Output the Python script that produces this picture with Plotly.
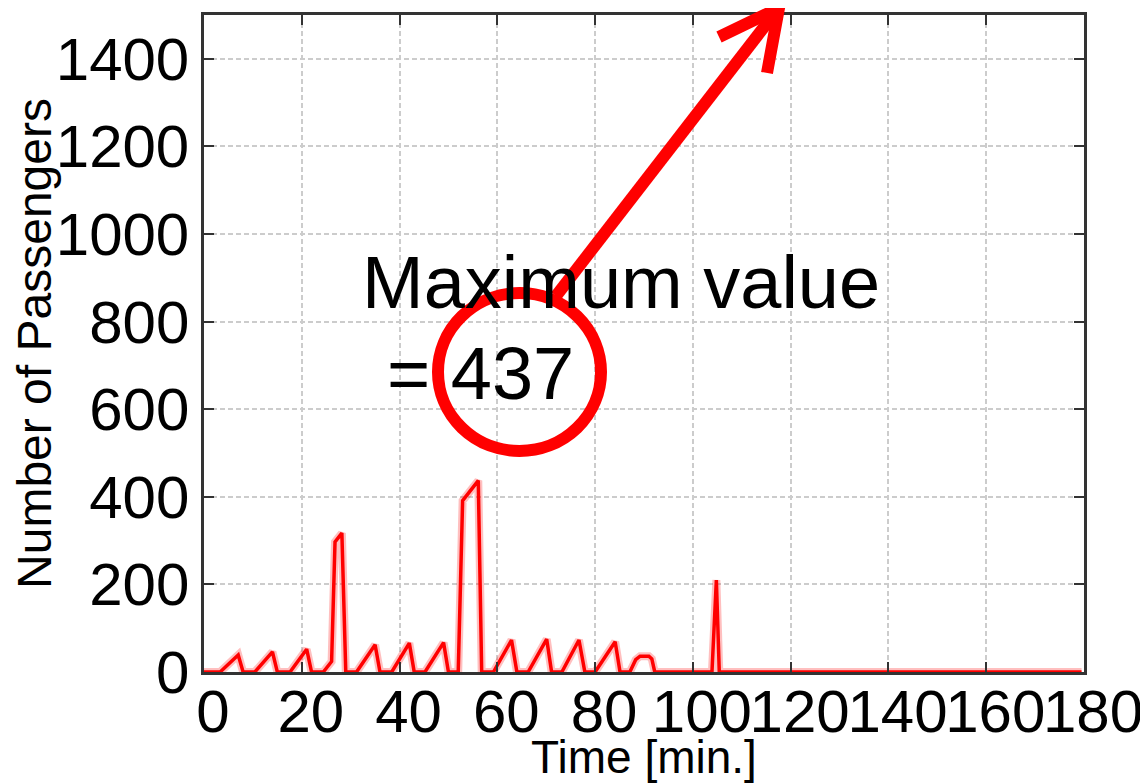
import plotly.graph_objects as go

# ---- data ----
time_min = [0, 3.3, 7.0, 8.0, 10.4, 14.0, 15.0, 17.6, 21.0, 22.0,
             24.4, 26.1, 26.8, 28.2, 29.0, 31.2, 35.0, 36.0, 38.4, 42.0,
             43.0, 45.2, 49.0, 50.0, 52.0, 52.9, 56.1, 56.8, 59.2, 62.9,
             64.0, 66.3, 70.1, 71.1, 73.2, 76.7, 77.9, 80.0, 84.1, 85.1,
             87.1, 88.3, 89.2, 91.0, 91.6, 92.2, 103.9, 104.8, 105.4, 179.5]
passengers = [0, 0, 39, 0, 0, 46, 0, 0, 52, 0,
              0, 24, 297, 317, 0, 0, 62, 0, 0, 66,
              0, 0, 67, 0, 0, 391, 437, 0, 0, 73,
              0, 0, 75, 0, 0, 73, 0, 0, 69, 0,
              0, 28, 36, 36, 30, 0, 0, 210, 0, 0]

x_ticks = [0, 20, 40, 60, 80, 100, 120, 140, 160, 180]
y_ticks = [0, 200, 400, 600, 800, 1000, 1200, 1400]

annot_line1 = "Maximum value"
annot_line2 = "= 437"
x_title = "Time [min.]"
y_title = "Number of Passengers"

FONT = "Liberation Sans, Arial, Helvetica, sans-serif"
OFF = 8  # page body margin of the browser
W, H = 1148 - OFF, 783 - OFF
L, R, T, B = 204 - OFF, 64, 15 - OFF, 111
PW, PH = W - L - R, H - T - B


def px(x):
    """screen pixel x -> paper"""
    return (x - OFF - L) / PW


def py(y):
    """screen pixel y -> paper"""
    return (H - B - (y - OFF)) / PH


fig = go.Figure()
fig.add_trace(go.Scatter(x=time_min, y=passengers, mode="lines",
                         line=dict(color="rgba(255,0,0,0.25)", width=8),
                         hoverinfo="skip", showlegend=False, cliponaxis=False))
fig.add_trace(go.Scatter(x=time_min, y=passengers, mode="lines",
                         line=dict(color="#ff0000", width=3.5),
                         showlegend=False, cliponaxis=False))

axis_common = dict(
    showline=True, linecolor="#333333", linewidth=2.5, mirror="ticks",
    ticks="inside", ticklen=10, tickwidth=2, tickcolor="#333333",
    showgrid=True, gridcolor="#cccccc", gridwidth=1.5, griddash="5px,3px",
    zeroline=False, tickfont=dict(family=FONT, size=60, color="black"),
)

fig.update_xaxes(range=[0, 180], tickvals=x_ticks, ticktext=[str(v) for v in x_ticks],
                 tickangle=0, ticklabelstandoff=-15, ticklabelshift=9,
                 title=dict(text=x_title, font=dict(family=FONT, size=46, color="black"),
                            standoff=20),
                 **axis_common)
fig.update_yaxes(range=[0, 1500], tickvals=y_ticks, ticktext=[str(v) for v in y_ticks],
                 ticklabelstandoff=0,
                 title=dict(text=y_title, font=dict(family=FONT, size=48, color="black"),
                            standoff=0),
                 **axis_common)

# circle around the value
fig.add_shape(type="circle", xref="paper", yref="paper",
              x0=px(438), x1=px(601), y0=py(451), y1=py(293),
              line=dict(color="#ff0000", width=12), layer="above")
# arrow shaft
fig.add_shape(type="line", xref="paper", yref="paper",
              x0=px(556), y0=py(296), x1=px(778), y1=py(9),
              line=dict(color="#ff0000", width=12), layer="above")
# arrow head
fig.add_shape(type="path", xref="paper", yref="paper",
              path=f"M {px(719)},{py(37)} L {px(779)},{py(8)} L {px(767)},{py(73)}",
              line=dict(color="#ff0000", width=12), layer="above")

fig.add_annotation(xref="paper", yref="paper", x=px(360), y=py(282),
                   xanchor="left", yanchor="middle", showarrow=False,
                   text=annot_line1, font=dict(family=FONT, size=74, color="black"))
fig.add_annotation(xref="paper", yref="paper", x=px(385), y=py(373),
                   xanchor="left", yanchor="middle", showarrow=False,
                   text=annot_line2, font=dict(family=FONT, size=74, color="black"))

fig.update_layout(
    width=W, height=H,
    margin=dict(l=L, r=R, t=T, b=B, autoexpand=False),
    plot_bgcolor="white", paper_bgcolor="white",
    font=dict(family=FONT, color="black"),
    showlegend=False,
)

fig.write_html("out.html")
